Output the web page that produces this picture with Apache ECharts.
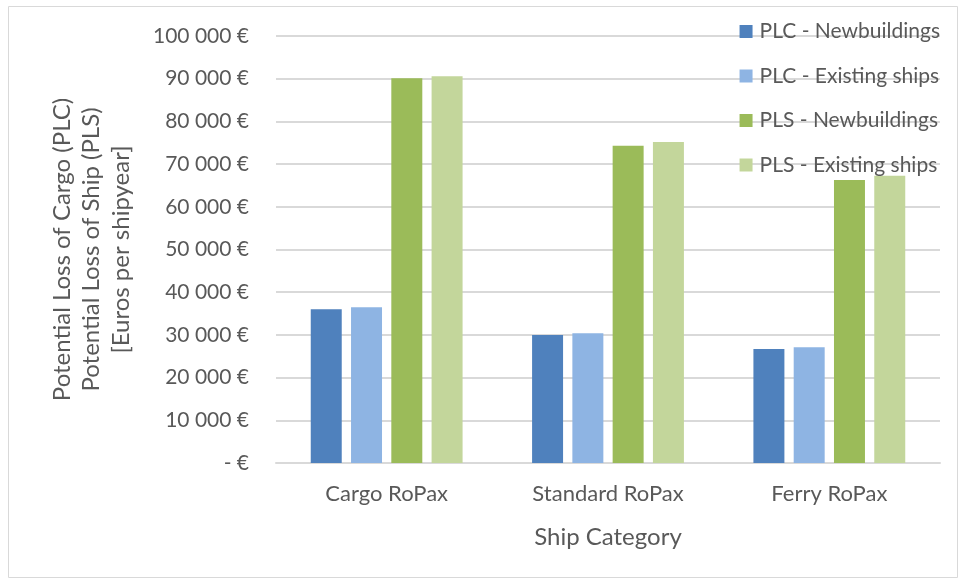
<!DOCTYPE html>
<html><head><meta charset="utf-8">
<script src="https://cdn.jsdelivr.net/npm/echarts@6/dist/echarts.min.js"></script>
<style>html,body{margin:0;padding:0;background:#fff}#c{width:963px;height:581px}</style>
</head><body><div id="c"></div>
<script>
const categories = ['Cargo RoPax', 'Standard RoPax', 'Ferry RoPax'];
const plcNew = [36000, 30000, 26700];
const plcExisting = [36500, 30400, 27100];
const plsNew = [90100, 74300, 66300];
const plsExisting = [90600, 75200, 67300];
const seriesNames = ['PLC - Newbuildings', 'PLC - Existing ships', 'PLS - Newbuildings', 'PLS - Existing ships'];
const colors = ['#4f81bd', '#8eb4e3', '#9bbb59', '#c3d69b'];
const yTicks = [0, 10000, 20000, 30000, 40000, 50000, 60000, 70000, 80000, 90000, 100000];

const FONT = 'Lato';
const TXT = '#595959';
const fmt = v => v === 0 ? '- €' : String(v).replace(/\B(?=(\d{3})+(?!\d))/g, ' ') + ' €';

const chart = echarts.init(document.getElementById('c'), null, {renderer: 'canvas'});
const data = [plcNew, plcExisting, plsNew, plsExisting];
chart.setOption({
  animation: false,
  textStyle: {fontFamily: FONT, color: TXT},
  graphic: [{type: 'rect', shape: {x: 8.5, y: 6.5, width: 949, height: 571}, style: {fill: 'none', stroke: '#d9d9d9', lineWidth: 1}, z: -1}],
  grid: {left: 276, right: 23, top: 36, bottom: 118, containLabel: false},
  legend: {
    orient: 'vertical', right: 18, top: 16, itemWidth: 13, itemHeight: 13, itemGap: 23.5,
    icon: 'rect', textStyle: {fontFamily: FONT, fontSize: 21, color: TXT, padding: [0, 0, 0, 2]},
    data: seriesNames
  },
  xAxis: {
    type: 'category', data: categories,
    axisLine: {lineStyle: {color: '#d9d9d9', width: 2}},
    axisTick: {show: false},
    axisLabel: {fontFamily: FONT, fontSize: 22, color: TXT, margin: 20},
    name: 'Ship Category', nameLocation: 'middle', nameGap: 62,
    nameTextStyle: {fontFamily: FONT, fontSize: 24, color: TXT}
  },
  yAxis: {
    type: 'value', min: 0, max: 100000, interval: 10000,
    axisLine: {show: false}, axisTick: {show: false},
    splitLine: {lineStyle: {color: '#d9d9d9', width: 2}},
    axisLabel: {fontFamily: FONT, fontSize: 21, color: TXT, margin: 27, formatter: v => yTicks.includes(v) ? fmt(v) : ''},
    name: 'Potential Loss of Cargo (PLC)\nPotential Loss of Ship (PLS)\n[Euros per shipyear]',
    nameLocation: 'middle', nameRotate: 90, nameGap: 140,
    nameTextStyle: {fontFamily: FONT, fontSize: 24, color: TXT, lineHeight: 29.5, align: 'center'}
  },
  series: data.map((d, i) => ({
    name: seriesNames[i], type: 'bar', data: d, barWidth: '14%', barGap: '30%',
    itemStyle: {color: colors[i]}
  }))
});
</script></body></html>
